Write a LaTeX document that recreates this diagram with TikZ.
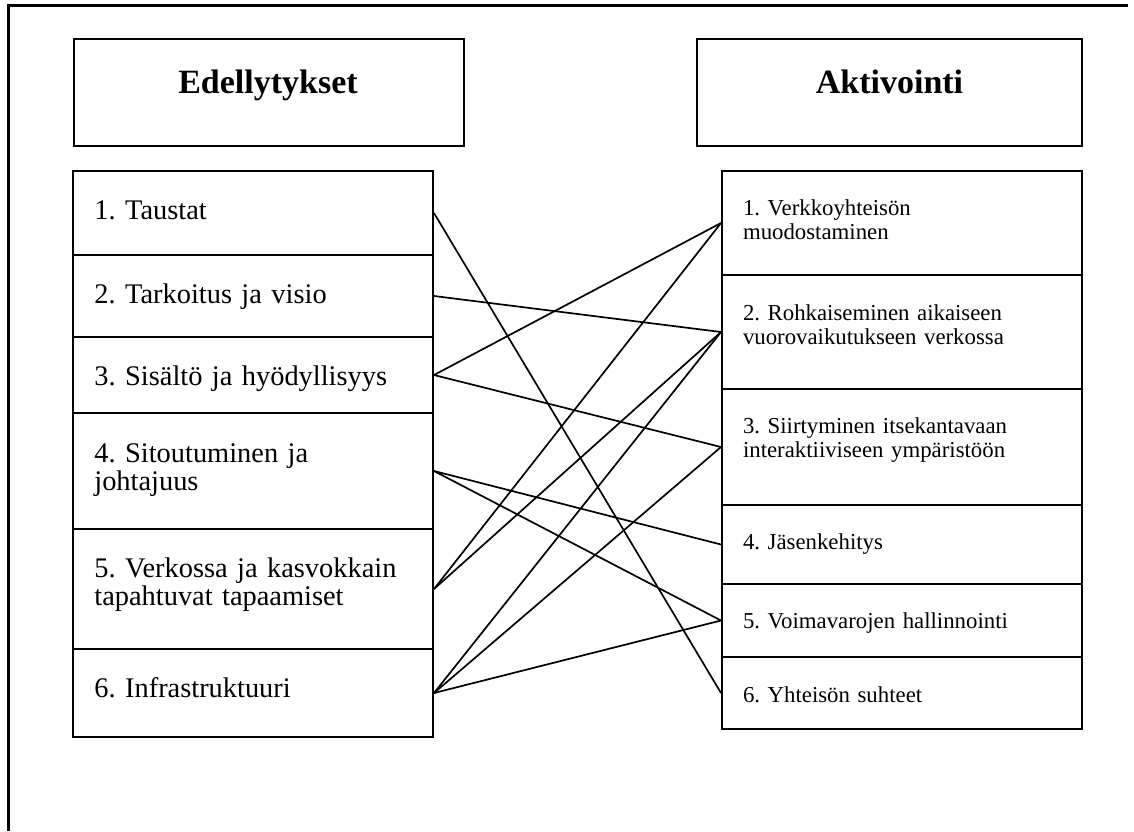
\documentclass[tikz,border=0pt]{standalone}
\usepackage{fontspec}
\setmainfont{Liberation Serif}
\frenchspacing
\begin{document}
\begin{tikzpicture}[x=0.5pt,y=-0.5pt,
  box/.style={draw,line width=1pt,inner sep=0pt,minimum width=180pt},
  hdr/.style={draw,line width=1pt,inner sep=0pt,minimum height=53.5pt},
  ltext/.style={anchor=base west,inner sep=0pt,text width=175pt,align=left,font=\fontsize{14.2}{14}\selectfont},
  rtext/.style={anchor=base west,inner sep=0pt,text width=165pt,align=left,font=\fontsize{11.4}{12.3}\selectfont},
  htext/.style={anchor=base,inner sep=0pt,font=\fontsize{17}{18}\selectfont\bfseries},
  link/.style={line width=0.85pt}]
\useasboundingbox (0,0) rectangle (1134,831);
\draw[line width=1.5pt] (8,831) -- (8,5) -- (1128,5);
% headers
\node[hdr,minimum width=195pt] (Lh) at (268.5,92.5) {};
\node[htext] (Lht) at (268,93) {Edellytykset};
\node[hdr,minimum width=192.5pt] (Rh) at (889.5,92.5) {};
\node[htext] (Rht) at (889.5,93) {Aktivointi};
% left items
\node[box,minimum height=42pt] (L1) at (253,213) {};
\node[box,minimum height=41pt] (L2) at (253,296) {};
\node[box,minimum height=38pt] (L3) at (253,375) {};
\node[box,minimum height=58pt] (L4) at (253,471) {};
\node[box,minimum height=60pt] (L5) at (253,589) {};
\node[box,minimum height=44pt] (L6) at (253,693) {};
\node[ltext] (L1t) at (94,219) {1. Taustat};
\node[ltext] (L2t) at (94,303) {2. Tarkoitus ja visio};
\node[ltext] (L3t) at (94,385) {3. Sisältö ja hyödyllisyys};
\node[ltext] (L4t) at (94,462) {4. Sitoutuminen ja\\johtajuus};
\node[ltext] (L5t) at (94,577) {5. Verkossa ja kasvokkain\\tapahtuvat tapaamiset};
\node[ltext] (L6t) at (94,697) {6. Infrastruktuuri};
% right items
\node[box,minimum height=52pt] (R1) at (902,223) {};
\node[box,minimum height=57pt] (R2) at (902,332) {};
\node[box,minimum height=58pt] (R3) at (902,447) {};
\node[box,minimum height=39.5pt] (R4) at (902,544.5) {};
\node[box,minimum height=36.5pt] (R5) at (902,620.5) {};
\node[box,minimum height=36pt] (R6) at (902,693) {};
\node[rtext] (R1t) at (742.6,215) {1. Verkkoyhteisön\\muodostaminen};
\node[rtext] (R2t) at (742.6,320) {2. Rohkaiseminen aikaiseen\\vuorovaikutukseen verkossa};
\node[rtext] (R3t) at (742.6,433) {3. Siirtyminen itsekantavaan\\interaktiiviseen ympäristöön};
\node[rtext] (R4t) at (742.6,549) {4. Jäsenkehitys};
\node[rtext] (R5t) at (742.6,628) {5. Voimavarojen hallinnointi};
\node[rtext] (R6t) at (742.6,702) {6. Yhteisön suhteet};
% links
\draw[link] (L1.east) -- (R6.west);
\draw[link] (L2.east) -- (R2.west);
\draw[link] (L3.east) -- (R1.west);
\draw[link] (L3.east) -- (R3.west);
\draw[link] (L4.east) -- (R4.west);
\draw[link] (L4.east) -- (R5.west);
\draw[link] (L5.east) -- (R1.west);
\draw[link] (L5.east) -- (R2.west);
\draw[link] (L6.east) -- (R2.west);
\draw[link] (L6.east) -- (R3.west);
\draw[link] (L6.east) -- (R5.west);
\end{tikzpicture}
\end{document}
